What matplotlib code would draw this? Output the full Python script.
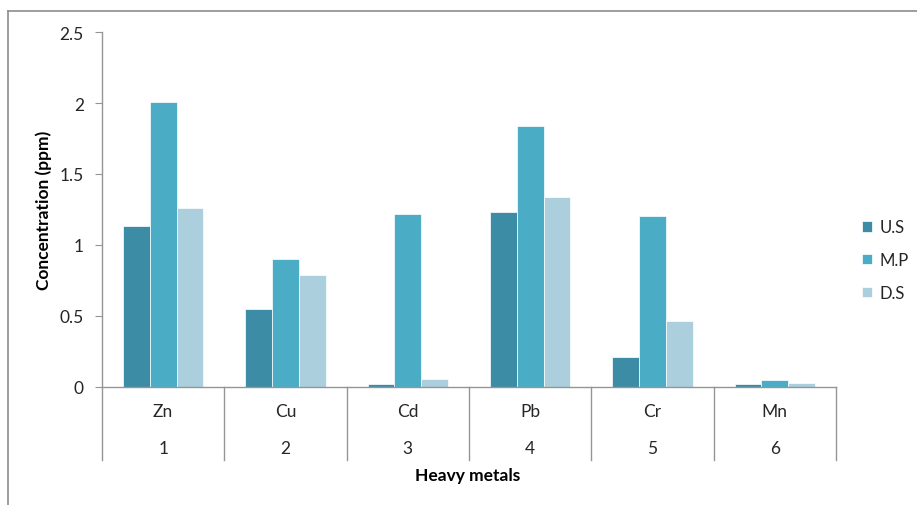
import matplotlib.pyplot as plt
from matplotlib.lines import Line2D
import numpy as np

plt.rcParams['font.family'] = ['Lato', 'DejaVu Sans']

metals = ['Zn', 'Cu', 'Cd', 'Pb', 'Cr', 'Mn']
numbers = ['1', '2', '3', '4', '5', '6']
series = ['U.S', 'M.P', 'D.S']
us = [1.13, 0.55, 0.02, 1.23, 0.21, 0.02]
mp = [2.01, 0.90, 1.22, 1.84, 1.20, 0.045]
ds = [1.26, 0.785, 0.05, 1.34, 0.46, 0.025]
yticks = [0, 0.5, 1, 1.5, 2, 2.5]
ytick_labels = ['0', '0.5', '1', '1.5', '2', '2.5']

colors = ['#3c8ca5', '#4bacc6', '#abcfdd']
axis_gray = '#959595'
text_col = '#262626'
fs = 12.5

fig = plt.figure(figsize=(9.17, 5.06), dpi=100, facecolor='white')
ax = fig.add_axes([102/917, 1-387.5/506, (836-102)/917, (387.5-33.3)/506])

x = np.arange(len(metals))
w = 0.219
for k, vals in enumerate([us, mp, ds]):
    ax.bar(x + (k-1)*w, vals, width=w, color=colors[k], edgecolor='white',
           linewidth=0.5, label=series[k], zorder=2)

ax.set_xlim(-0.5, len(metals)-0.5)
ax.set_ylim(0, 2.5)
ax.set_yticks(yticks)
ax.set_yticklabels(ytick_labels)
ax.tick_params(axis='y', direction='out', length=5, color=axis_gray,
               labelsize=fs, labelcolor=text_col, pad=8)
ax.set_xticks([])

for s in ['top', 'right']:
    ax.spines[s].set_visible(False)
for s in ['left', 'bottom']:
    ax.spines[s].set_color(axis_gray)
    ax.spines[s].set_linewidth(1)

# two-level category axis
trans = ax.get_xaxis_transform()
ax_h = 387.5 - 33.3
sep_bottom = -(460.7 - 387.5) / ax_h
for b in np.arange(-0.5, len(metals), 1.0):
    ax.plot([b, b], [0, sep_bottom], color=axis_gray, lw=1,
            transform=trans, clip_on=False)
for i in range(len(metals)):
    ax.text(i, -(412 - 387.5) / ax_h, metals[i], transform=trans,
            ha='center', va='center', fontsize=fs, color=text_col)
    ax.text(i, -(449 - 387.5) / ax_h, numbers[i], transform=trans,
            ha='center', va='center', fontsize=fs, color=text_col)

fig.text(468/917, 1-476/506, 'Heavy metals', ha='center', va='center',
         fontsize=fs, fontweight='bold', color='black')
fig.text(44/917, 1-210/506, 'Concentration (ppm)', ha='center', va='center',
         rotation=90, fontsize=fs, fontweight='bold', color='black')

fig.legend(loc='center left', bbox_to_anchor=(862/917, 1-261/506),
           frameon=False, borderpad=0, borderaxespad=0,
           handlelength=0.6, handleheight=0.6,
           handletextpad=0.45, labelspacing=1.0, fontsize=12,
           labelcolor=text_col)

# outer chart frame (top and left edges only visible)
fig.add_artist(Line2D([8/917, 1], [1-12/506, 1-12/506], color='#8c8c8c',
                      lw=1.2, transform=fig.transFigure))
fig.add_artist(Line2D([8/917, 8/917], [0, 1-12/506], color='#8c8c8c',
                      lw=1.2, transform=fig.transFigure))

fig.savefig('out.png', dpi=100, facecolor='white')
